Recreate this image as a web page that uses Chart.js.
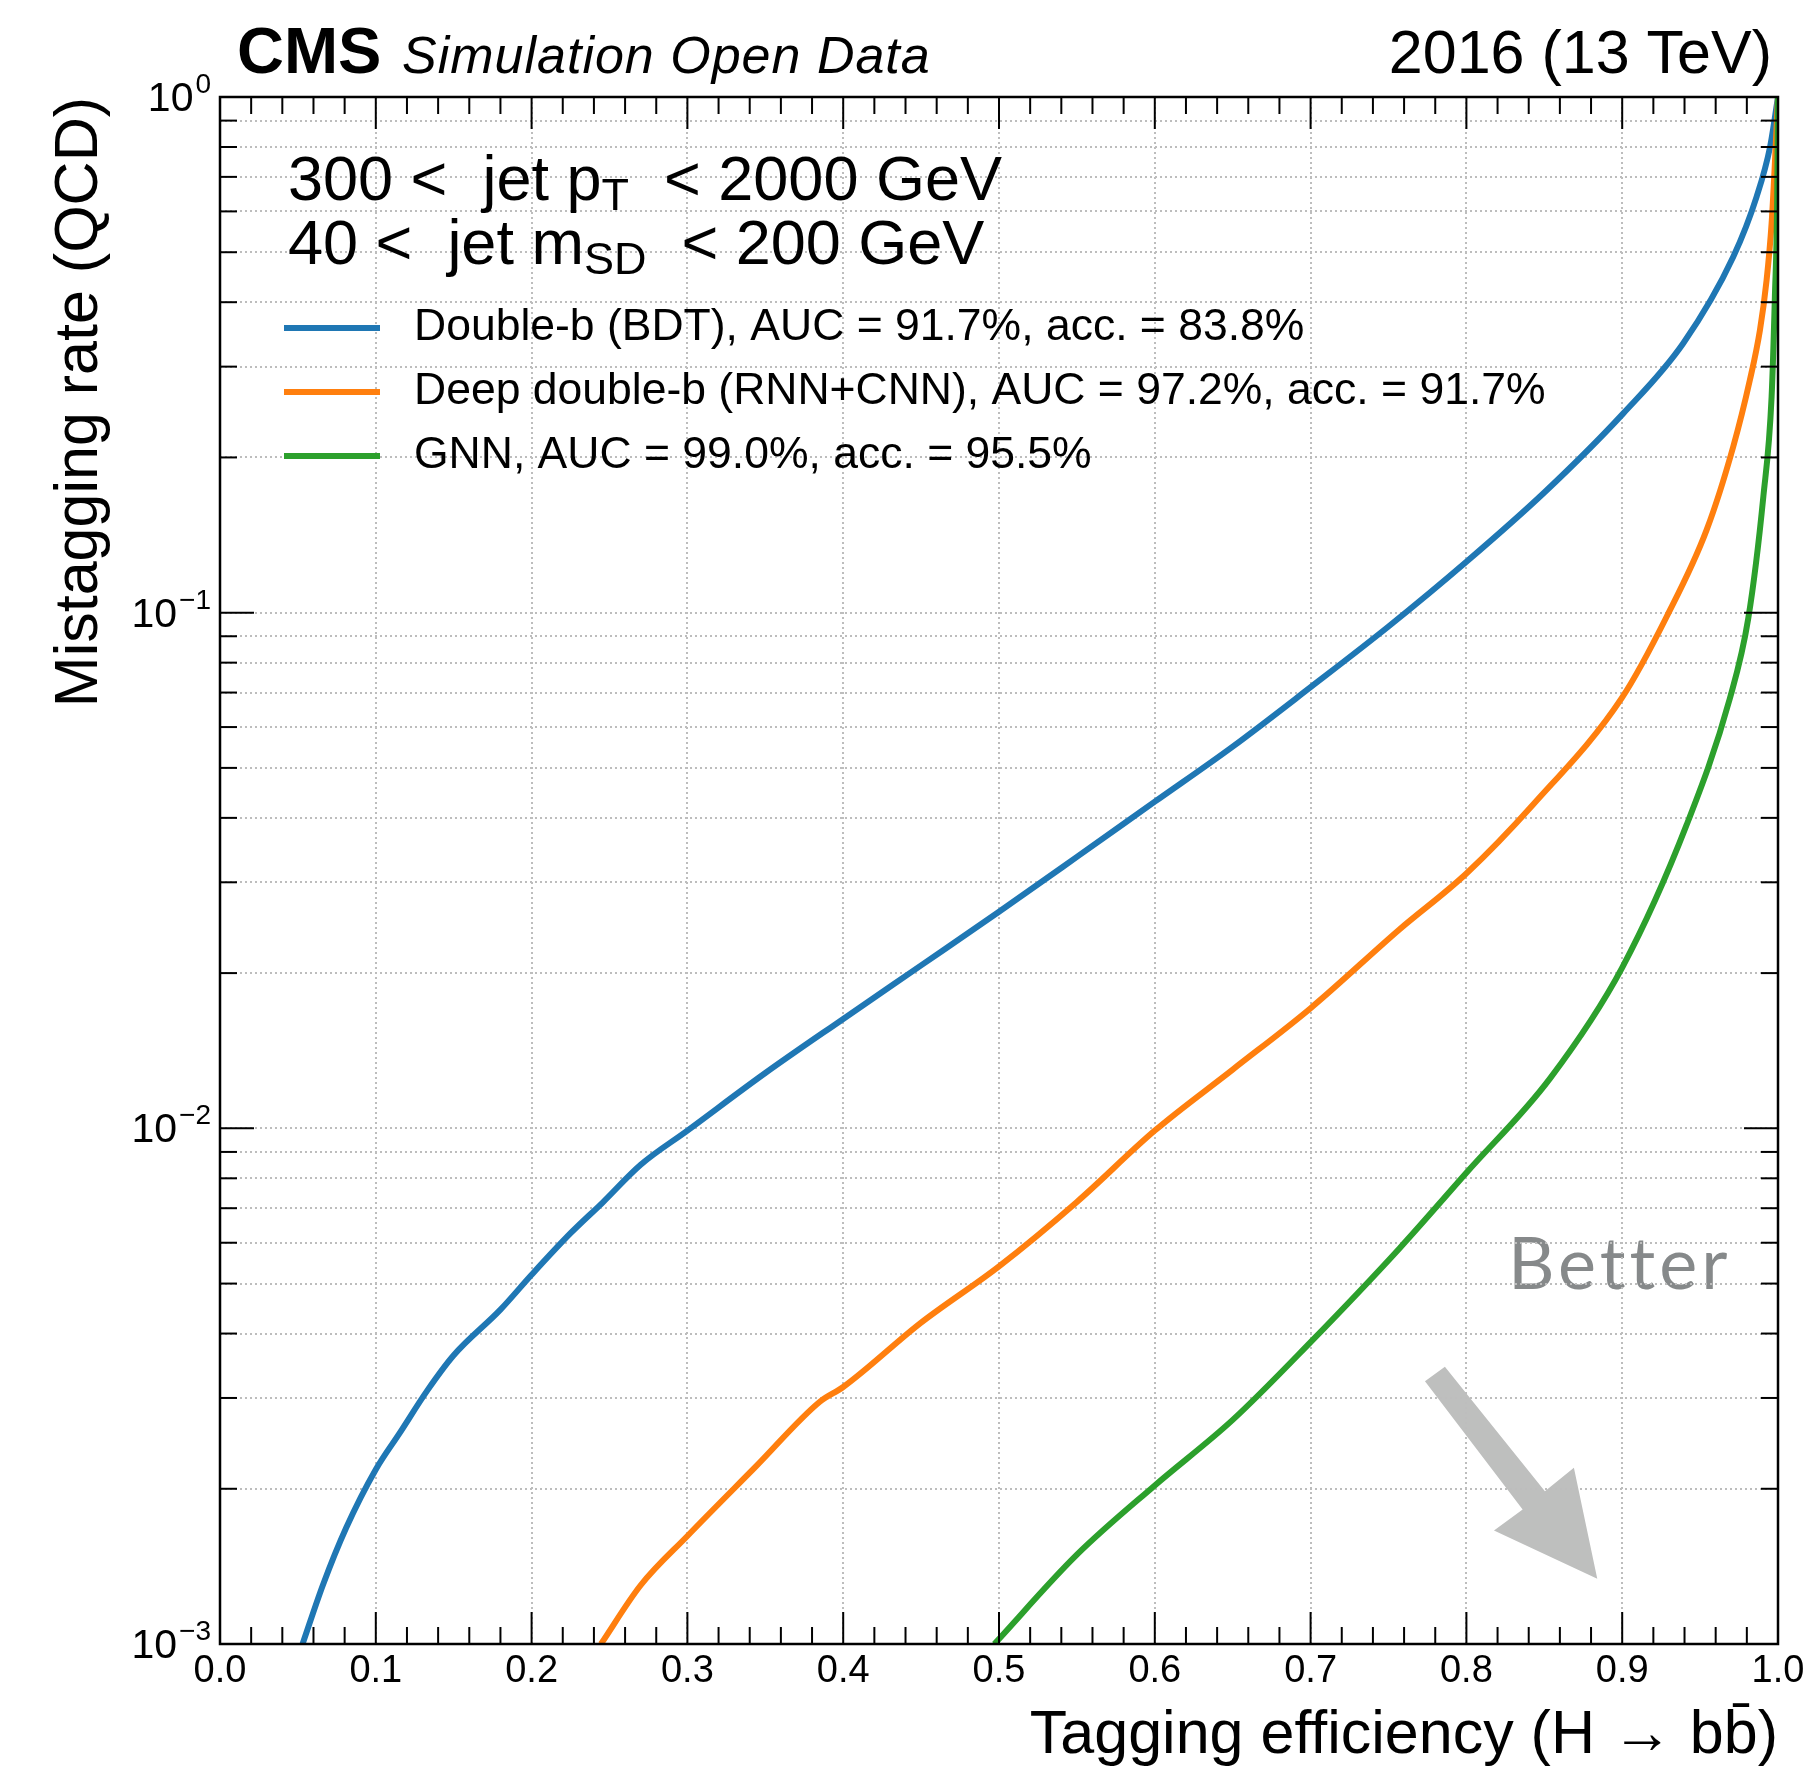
<!DOCTYPE html>
<html>
<head>
<meta charset="utf-8">
<script src="https://cdn.jsdelivr.net/npm/chart.js@4.4.1/dist/chart.umd.min.js"></script>
<style>
    html, body { margin: 0; padding: 0; background: #fff; }
    #wrap { width: 1819px; height: 1769px; }
</style>
</head>
<body>
<div id="wrap"><canvas id="roc" width="1819" height="1769"></canvas></div>
<script>
// legend texts, one per curve
var seriesLabels = [
    'Double-b (BDT), AUC = 91.7%, acc. = 83.8%',
    'Deep double-b (RNN+CNN), AUC = 97.2%, acc. = 91.7%',
    'GNN, AUC = 99.0%, acc. = 95.5%'
];
var seriesColors = ['#1f77b4', '#ff7f0e', '#2ca02c'];

// Double-b (BDT): tagging efficiency vs mistag rate
var bdtEff    = [0.053, 0.066, 0.081, 0.100, 0.1155, 0.133, 0.150, 0.180, 0.200, 0.225, 0.2456, 0.270, 0.300, 0.350, 0.400, 0.450, 0.500, 0.550, 0.600, 0.650, 0.700, 0.750, 0.800, 0.850, 0.9007, 0.9392, 0.9713, 0.9863, 0.9949, 1.000];
var bdtMistag = [0.0010, 0.00130, 0.00168, 0.00218, 0.00257, 0.0031, 0.00363, 0.00445, 0.0052, 0.00626, 0.00718, 0.0085, 0.0099, 0.0128, 0.0163, 0.0207, 0.0263, 0.0336, 0.0430, 0.0550, 0.0717, 0.0940, 0.1255, 0.171, 0.2435, 0.333, 0.490, 0.641, 0.80, 1.0];

// Deep double-b (RNN+CNN)
var ddbEff    = [0.2445, 0.270, 0.300, 0.344, 0.385, 0.400, 0.450, 0.500, 0.550, 0.600, 0.650, 0.700, 0.757, 0.800, 0.843, 0.900, 0.9286, 0.9542, 0.9713, 0.982, 0.9884, 0.9927, 0.9959, 0.998, 1.000];
var ddbMistag = [0.0010, 0.00130, 0.00162, 0.00221, 0.00295, 0.00315, 0.0042, 0.0054, 0.0072, 0.0099, 0.0130, 0.0171, 0.0243, 0.0312, 0.0425, 0.0685, 0.0983, 0.1447, 0.210, 0.283, 0.353, 0.442, 0.569, 0.744, 1.0];

// GNN
var gnnEff    = [0.497, 0.550, 0.600, 0.650, 0.700, 0.757, 0.800, 0.8537, 0.900, 0.9414, 0.969, 0.9809, 0.9906, 0.9959, 0.998, 0.9995, 1.000];
var gnnMistag = [0.0010, 0.00149, 0.00203, 0.00272, 0.00385, 0.00585, 0.0082, 0.0125, 0.0205, 0.0388, 0.068, 0.0974, 0.168, 0.2625, 0.41, 0.64, 1.0];

// axis ticks
var xTickLabels = ['0.0', '0.1', '0.2', '0.3', '0.4', '0.5', '0.6', '0.7', '0.8', '0.9', '1.0'];
var yDecades = [0.001, 0.01, 0.1, 1];
var yDecadeExp = ['\u22123', '\u22122', '\u22121', '0'];

// "Better" arrow outline and label, in axis units (efficiency, mistag rate)
var betterArrow = [[0.7734, 0.003233], [0.7862, 0.003447], [0.8504, 0.001978], [0.8690, 0.002196],
                   [0.8840, 0.001338], [0.8177, 0.001660], [0.8361, 0.001823]];
var betterLabelPos = [0.8267, 0.00487];

var FONT = '"Liberation Sans", Arial, Helvetica, sans-serif';
Chart.defaults.font.family = FONT;
Chart.defaults.color = '#000';

function toPoints(xs, ys) {
    var pts = [];
    for (let i = 0; i < xs.length; i++) {
        pts.push({x: xs[i], y: ys[i]});
    }
    return pts;
}

function yGridValues() {
    var vals = [];
    for (let d = 0; d < yDecades.length - 1; d++) {
        for (let m = 1; m <= 9; m++) {
            vals.push(+(m * yDecades[d]).toPrecision(3));
        }
    }
    vals.push(yDecades[yDecades.length - 1]);
    return vals;
}

function strokeLine(ctx, x1, y1, x2, y2) {
    ctx.beginPath();
    ctx.moveTo(x1, y1);
    ctx.lineTo(x2, y2);
    ctx.stroke();
}

function drawParts(ctx, x, y, parts, size, subSize) {
    for (let i = 0; i < parts.length; i++) {
        var sub = parts[i][1];
        ctx.font = (sub ? subSize : size) + 'px ' + FONT;
        ctx.fillText(parts[i][0], x, sub ? y + 10 : y);
        x += ctx.measureText(parts[i][0]).width;
    }
}

var cmsStyle = {
    id: 'cmsStyle',
    beforeDraw: function(chart) {
        var ctx = chart.ctx, xs = chart.scales.x, ys = chart.scales.y;
        ctx.save();
        // arrow, under the grid
        ctx.fillStyle = '#bebfbe';
        ctx.beginPath();
        betterArrow.forEach(function(p, i) {
            var px = xs.getPixelForValue(p[0]), py = ys.getPixelForValue(p[1]);
            if (i === 0) ctx.moveTo(px, py); else ctx.lineTo(px, py);
        });
        ctx.closePath();
        ctx.fill();
        ctx.fillStyle = '#86898a';
        ctx.font = '72px Lato, "Open Sans", sans-serif';
        ctx.letterSpacing = '4px';
        ctx.textAlign = 'left';
        ctx.textBaseline = 'alphabetic';
        ctx.fillText('Better', xs.getPixelForValue(betterLabelPos[0]), ys.getPixelForValue(betterLabelPos[1]));
        ctx.restore();
    },
    afterDraw: function(chart) {
        var ctx = chart.ctx, a = chart.chartArea, xs = chart.scales.x, ys = chart.scales.y;
        ctx.save();
        ctx.strokeStyle = '#000';
        ctx.fillStyle = '#000';

        // inward ticks, all four sides
        ctx.lineWidth = 2;
        for (let i = 0; i <= 50; i++) {
            var px = xs.getPixelForValue(i / 50);
            var len = (i % 5 === 0) ? 32 : 17;
            strokeLine(ctx, px, a.bottom, px, a.bottom - len);
            strokeLine(ctx, px, a.top, px, a.top + len);
        }
        yGridValues().forEach(function(v) {
            var py = ys.getPixelForValue(v);
            var len = yDecades.indexOf(v) >= 0 ? 34 : 17;
            strokeLine(ctx, a.left, py, a.left + len, py);
            strokeLine(ctx, a.right, py, a.right - len, py);
        });
        ctx.lineWidth = 2.5;
        ctx.strokeRect(a.left, a.top, a.right - a.left, a.bottom - a.top);

        // y tick labels as 10^n
        ctx.textAlign = 'left';
        ctx.textBaseline = 'alphabetic';
        yDecades.forEach(function(v, i) {
            var py = ys.getPixelForValue(v);
            var right = a.left - 9;
            ctx.font = '28px ' + FONT;
            var ew = ctx.measureText(yDecadeExp[i]).width;
            ctx.fillText(yDecadeExp[i], right - ew, py - 4);
            ctx.font = '41px ' + FONT;
            var bw = ctx.measureText('10').width;
            ctx.fillText('10', right - ew - 2 - bw, py + 14);
        });

        // header
        ctx.font = 'bold 65px ' + FONT;
        ctx.fillText('CMS', 237, 73);
        ctx.font = 'italic 52px ' + FONT;
        ctx.letterSpacing = '1px';
        ctx.fillText('Simulation Open Data', 402, 73);
        ctx.letterSpacing = '0px';
        ctx.textAlign = 'right';
        ctx.font = '61px ' + FONT;
        ctx.fillText('2016 (13 TeV)', 1772, 73);

        // selection text
        ctx.textAlign = 'left';
        drawParts(ctx, 288, 200, [['300 <  jet p', false], ['T', true], ['  < 2000 GeV', false]], 63, 45);
        drawParts(ctx, 288, 264, [['40 <  jet m', false], ['SD', true], ['  < 200 GeV', false]], 63, 45);

        // legend
        ctx.textBaseline = 'middle';
        ctx.font = '44.5px ' + FONT;
        chart.data.datasets.forEach(function(ds, i) {
            var y = 328 + i * 64;
            ctx.strokeStyle = ds.borderColor;
            ctx.lineWidth = 6;
            strokeLine(ctx, 284, y, 380, y);
            ctx.fillText(ds.label, 414, y);
        });
        ctx.restore();
    }
};

var gridStyle = { color: '#bdbdbd', lineWidth: 2, drawTicks: false };

var rocChart = new Chart(document.getElementById('roc'), {
    type: 'line',
    data: {
        datasets: [
            { label: seriesLabels[0], data: toPoints(bdtEff, bdtMistag), borderColor: seriesColors[0], borderWidth: 6, order: 3 },
            { label: seriesLabels[1], data: toPoints(ddbEff, ddbMistag), borderColor: seriesColors[1], borderWidth: 6, order: 2 },
            { label: seriesLabels[2], data: toPoints(gnnEff, gnnMistag), borderColor: seriesColors[2], borderWidth: 6, order: 1 }
        ]
    },
    options: {
        responsive: false,
        animation: false,
        layout: { padding: { top: 97, right: 41, left: 0, bottom: 0 } },
        elements: {
            point: { radius: 0 },
            line: { borderWidth: 6, cubicInterpolationMode: 'monotone', fill: false }
        },
        plugins: { legend: { display: false }, tooltip: { enabled: false } },
        scales: {
            x: {
                type: 'linear', min: 0, max: 1,
                ticks: {
                    stepSize: 0.1, autoSkip: false, maxRotation: 0, padding: 5,
                    font: { size: 38 }, color: '#000',
                    callback: function(v) { return xTickLabels[Math.round(v * 10)]; }
                },
                grid: gridStyle,
                border: { display: false, dash: [2, 3] },
                title: {
                    display: true, text: 'Tagging efficiency (H \u2192 bb\u0304)', align: 'end',
                    font: { size: 61, lineHeight: 1 }, color: '#000', padding: { top: 0, bottom: 2 }
                },
                afterFit: function(s) { s.height = 125; }
            },
            y: {
                type: 'logarithmic', min: 0.001, max: 1,
                afterBuildTicks: function(s) {
                    s.ticks = yGridValues().map(function(v) { return { value: v }; });
                },
                ticks: { display: false },
                grid: gridStyle,
                border: { display: false, dash: [2, 3] },
                title: {
                    display: true, text: 'Mistagging rate (QCD)', align: 'end',
                    font: { size: 61, lineHeight: 1 }, color: '#000', padding: { top: 50, bottom: 0 }
                },
                afterFit: function(s) { s.width = 220; }
            }
        }
    },
    plugins: [cmsStyle]
});
</script>
</body>
</html>
